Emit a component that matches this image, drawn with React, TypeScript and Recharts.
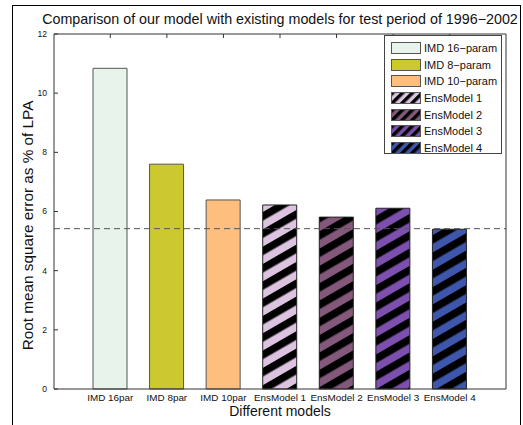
import React from "react";
import { BarChart, Bar, Cell, XAxis, YAxis, ReferenceLine, Label } from "recharts";

const models = ["IMD 16par", "IMD 8par", "IMD 10par", "EnsModel 1", "EnsModel 2", "EnsModel 3", "EnsModel 4"];
const rmse = [10.84, 7.6, 6.39, 6.22, 5.81, 6.11, 5.4];
const legendLabels = ["IMD 16−param", "IMD 8−param", "IMD 10−param", "EnsModel 1", "EnsModel 2", "EnsModel 3", "EnsModel 4"];
const fills = ["#e8f3ec", "#cbc92f", "#fdbe7e", "#dcc3e0", "#83587a", "#7d4fae", "#3e56ab"];
const hatched = [false, false, false, true, true, true, true];
const yTicks = [0, 2, 4, 6, 8, 10, 12];
const referenceLevel = 5.42;

const FONT = "'Liberation Sans', Arial, sans-serif";
const AXIS = "#333";

const chartData = models.map((name, i) => ({ name, rmse: rmse[i] }));

function fillFor(i: number, prefix: string) {
  return hatched[i] ? `url(#${prefix}${i})` : fills[i];
}

function LeftTick(props: any) {
  const { x, y, payload } = props;
  return (
    <g>
      <text x={x} y={y} dy="0.35em" textAnchor="end" fontSize={8.5} fill="#111" fontFamily={FONT}>
        {payload.value}
      </text>
      <line x1={x + 7} x2={x + 11} y1={y} y2={y} stroke={AXIS} />
    </g>
  );
}

function RightTick(props: any) {
  const { x, y } = props;
  return <line x1={x} x2={x - 4} y1={y} y2={y} stroke={AXIS} />;
}

function TopTick(props: any) {
  const { x, y } = props;
  return <line x1={x} x2={x} y1={y} y2={y + 4} stroke={AXIS} />;
}

function YTitle(props: any) {
  const vb = props.viewBox;
  const cx = vb.x + 3;
  const cy = vb.y + vb.height / 2 + 14;
  return (
    <text
      x={cx}
      y={cy}
      transform={`rotate(-90, ${cx}, ${cy})`}
      textAnchor="middle"
      dominantBaseline="central"
      fontSize={15.3}
      fill="#111"
      fontFamily={FONT}
    >
      Root mean square error as % of LPA
    </text>
  );
}

function Swatch({ i }: { i: number }) {
  return (
    <svg width={30} height={12} style={{ display: "block" }}>
      <defs>
        <pattern id={`leg${i}`} patternUnits="userSpaceOnUse" width={8} height={7} patternTransform="rotate(-45)">
          <rect width={8} height={7} fill={fills[i]} />
          <rect width={8} height={3.5} fill="#000" />
        </pattern>
      </defs>
      <rect x={0.5} y={0.5} width={29} height={11} fill={fillFor(i, "leg")} stroke="#555" />
    </svg>
  );
}

function ModelLegend() {
  return (
    <div
      style={{
        position: "absolute",
        left: 384,
        top: 35,
        width: 118,
        height: 119,
        background: "#fff",
        border: "1px solid #444",
        boxSizing: "border-box",
        padding: "4px 0 0 6px",
        fontFamily: FONT,
        fontSize: 11,
        color: "#111",
      }}
    >
      {legendLabels.map((label, i) => (
        <div key={label} style={{ display: "flex", alignItems: "center", height: 16.6 }}>
          <Swatch i={i} />
          <span style={{ marginLeft: 3, whiteSpace: "nowrap" }}>{label}</span>
        </div>
      ))}
    </div>
  );
}

export default function App() {
  return (
    <div style={{ position: "absolute", left: 0, top: 0, width: 523, height: 425, overflow: "hidden", background: "#fff" }}>
      <div
        style={{
          position: "absolute",
          left: 12,
          top: 5,
          width: 509,
          height: 440,
          borderLeft: "1px solid #000",
          borderTop: "1px solid #000",
          borderRight: "1px solid #000",
          boxSizing: "border-box",
        }}
      />
      <BarChart
        width={523}
        height={425}
        data={chartData}
        margin={{ top: 33, right: 16, left: 24, bottom: 2 }}
        style={{ position: "absolute", left: 0, top: 0 }}
      >
        <defs>
          {fills.map((c, i) => (
            <pattern key={i} id={`hatch${i}`} patternUnits="userSpaceOnUse" width={16} height={15} patternTransform="rotate(-30)">
              <rect width={16} height={15} fill={c} />
              <rect width={16} height={7.5} fill="#000" />
            </pattern>
          ))}
        </defs>
        <XAxis
          dataKey="name"
          padding={{ left: 28, right: 28 }}
          height={34}
          tickSize={0}
          tickMargin={5}
          tickLine={false}
          axisLine={{ stroke: AXIS }}
          tick={{ fontSize: 9.9, fill: "#111", fontFamily: FONT }}
          interval={0}
        >
          <Label value="Different models" position="insideBottom" offset={7} fontSize={14} fill="#111" fontFamily={FONT} />
        </XAxis>
        <XAxis
          xAxisId="top"
          orientation="top"
          dataKey="name"
          padding={{ left: 28, right: 28 }}
          height={1}
          tickSize={0}
          tickMargin={0}
          tickLine={false}
          axisLine={{ stroke: AXIS }}
          tick={<TopTick />}
          interval={0}
        >
          <Label
            value="Comparison of our model with existing models for test period of 1996−2002"
            position="top"
            offset={9}
            fontSize={14.3}
            fill="#111"
            fontFamily={FONT}
          />
        </XAxis>
        <YAxis
          domain={[0, 12]}
          ticks={yTicks}
          width={30}
          tickSize={0}
          tickMargin={7}
          tickLine={false}
          axisLine={{ stroke: AXIS }}
          tick={<LeftTick />}
        >
          <Label content={<YTitle />} />
        </YAxis>
        <YAxis
          yAxisId="right"
          orientation="right"
          domain={[0, 12]}
          ticks={yTicks}
          width={1}
          tickSize={0}
          tickMargin={0}
          tickLine={false}
          axisLine={{ stroke: AXIS }}
          tick={<RightTick />}
        />
        <Bar dataKey="rmse" barSize={34} isAnimationActive={false}>
          {chartData.map((d, i) => (
            <Cell key={d.name} fill={fillFor(i, "hatch")} stroke={hatched[i] ? "#222" : "#555"} strokeWidth={1} />
          ))}
        </Bar>
        <ReferenceLine y={referenceLevel} stroke="#555" strokeDasharray="6 4" strokeWidth={1} />
      </BarChart>
      <ModelLegend />
    </div>
  );
}
